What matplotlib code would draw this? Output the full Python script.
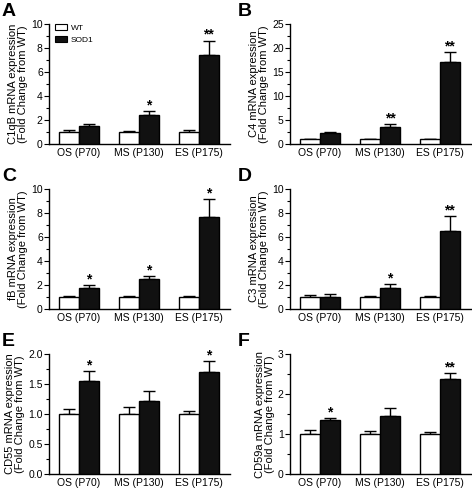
import numpy as np
import matplotlib.pyplot as plt
from matplotlib.ticker import MultipleLocator, AutoMinorLocator
from matplotlib.patches import Patch

plt.rcParams['font.family'] = ['Liberation Sans', 'DejaVu Sans']

# Datos
etapas = ['OS (P70)', 'MS (P130)', 'ES (P175)']
paneles = ['A', 'B', 'C', 'D', 'E', 'F']
etiquetas_y = ['C1qB mRNA expression', 'C4 mRNA expression', 'fB mRNA expression',
               'C3 mRNA expression', 'CD55 mRNA expression', 'CD59a mRNA expression']

wt_media = [[1.0, 1.0, 1.0], [1.0, 1.0, 1.0], [1.0, 1.0, 1.0],
            [1.0, 1.0, 1.0], [1.0, 1.0, 1.0], [1.0, 1.0, 1.0]]
wt_err = [[0.16, 0.09, 0.16], [0.12, 0.12, 0.1], [0.1, 0.05, 0.06],
          [0.18, 0.11, 0.1], [0.083, 0.11, 0.05], [0.1, 0.07, 0.06]]
sod1_media = [[1.48, 2.43, 7.45], [2.22, 3.47, 17.15], [1.78, 2.47, 7.67],
              [0.97, 1.78, 6.53], [1.544, 1.222, 1.694], [1.34, 1.44, 2.375]]
sod1_err = [[0.15, 0.32, 1.17], [0.35, 0.7, 1.95], [0.2, 0.31, 1.47],
            [0.32, 0.28, 1.2], [0.17, 0.156, 0.184], [0.07, 0.2, 0.15]]
signif = [['', '*', '**'], ['', '**', '**'], ['*', '*', '*'],
          ['', '*', '**'], ['*', '', '*'], ['*', '', '**']]
y_max = [10, 25, 10, 10, 2.0, 3]
y_paso = [2, 5, 2, 2, 0.5, 1]

fig = plt.figure(figsize=(4.72, 4.92), dpi=100)
W, H = 472.0, 492.0

x = np.arange(len(etapas))
ancho = 0.335

for i in range(6):
    fila, col = i // 2, i % 2
    izq = 49 + col * 241
    abajo = 144 + fila * 165
    ax = fig.add_axes([izq / W, 1 - abajo / H, 181 / W, 120 / H])

    ax.bar(x - ancho / 2, wt_media[i], ancho, color='white', edgecolor='black',
           linewidth=1, label='WT', zorder=3)
    ax.bar(x + ancho / 2, sod1_media[i], ancho, color='#111111', edgecolor='black',
           linewidth=1, label='SOD1', zorder=3)
    ax.errorbar(x - ancho / 2, wt_media[i], yerr=[np.zeros(3), wt_err[i]], fmt='none',
                ecolor='black', elinewidth=1, capsize=4, capthick=1, zorder=2)
    ax.errorbar(x + ancho / 2, sod1_media[i], yerr=[np.zeros(3), sod1_err[i]], fmt='none',
                ecolor='black', elinewidth=1, capsize=4, capthick=1, zorder=2)

    for j in range(3):
        if signif[i][j]:
            ax.annotate(signif[i][j], (x[j] + ancho / 2, sod1_media[i][j] + sod1_err[i][j]),
                        xytext=(0, -1), textcoords='offset points', ha='center', va='bottom',
                        fontsize=10, fontweight='bold')

    ax.set_xlim(-0.5, 2.52)
    ax.set_ylim(0, y_max[i])
    ax.yaxis.set_major_locator(MultipleLocator(y_paso[i]))
    ax.yaxis.set_minor_locator(AutoMinorLocator(2))
    if i == 4:
        ax.yaxis.set_major_formatter(plt.FormatStrFormatter('%.1f'))
    ax.set_xticks(x)
    ax.set_xticklabels(etapas)
    ax.tick_params(axis='x', length=0, pad=3, labelsize=7.5)
    ax.tick_params(axis='y', which='major', length=3.5, width=0.8, pad=1, labelsize=7.5)
    ax.tick_params(axis='y', which='minor', length=2, width=0.8)
    for s in ['top', 'right']:
        ax.spines[s].set_visible(False)
    for s in ['left', 'bottom']:
        ax.spines[s].set_linewidth(1)

    ax.set_ylabel(etiquetas_y[i] + '\n(Fold Change from WT)', fontsize=8,
                  labelpad=2, linespacing=1.0)

    fig.text((2 + col * 236) / W, 1 - 3 / H - fila * 165 / H, paneles[i],
             fontsize=14, fontweight='bold', va='top', ha='left')

    if i == 0:
        manijas = [Patch(facecolor='white', edgecolor='black', linewidth=0.8),
                   Patch(facecolor='#111111', edgecolor='black', linewidth=0.8)]
        ax.legend(manijas, ['WT', 'SOD1'], loc='upper left', bbox_to_anchor=(0.0, 1.05),
                  fontsize=6, frameon=False, handlelength=1.5, handleheight=0.8,
                  handletextpad=0.4, labelspacing=0.5, borderaxespad=0.3)

fig.savefig('out.png', dpi=100)
